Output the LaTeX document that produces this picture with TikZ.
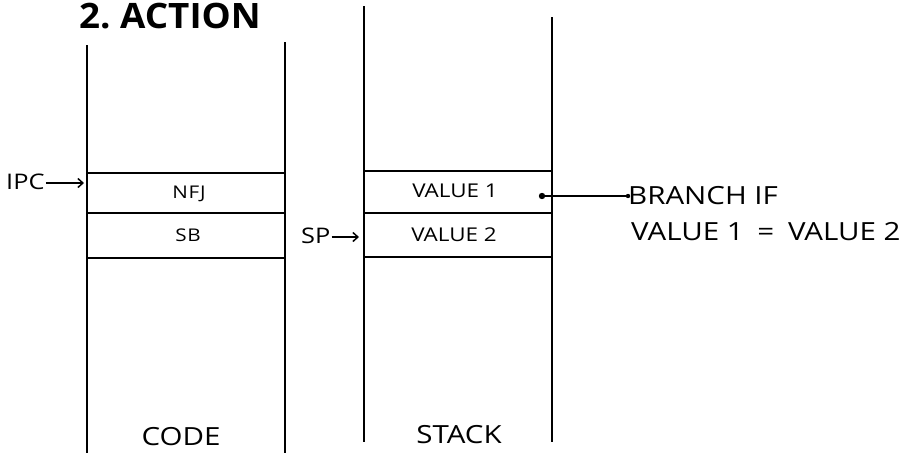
\documentclass[tikz,border=0pt]{standalone}
\usepackage{fontspec}
\setmainfont{Open Sans}[FakeStretch=1.18]
\newfontfamily\titlefont{Open Sans}[FakeStretch=1.05]
\usetikzlibrary{arrows.meta}
\begin{document}
\begin{tikzpicture}[x=1pt,y=-1pt,
  col/.style={line width=2.2pt},
  row/.style={line width=2.6pt},
  lbl/.style={inner sep=0pt,font=\fontsize{25}{28}\selectfont},
  cell/.style={inner sep=0pt,font=\fontsize{19}{22}\selectfont},
  small/.style={inner sep=0pt,font=\fontsize{17.5}{18}\selectfont\addfontfeature{LetterSpace=4}},
  ptr/.style={line width=1.5pt,-{Straight Barb[length=5pt,width=9pt]}}]
\useasboundingbox (0,0) rectangle (908,453);
% columns
\draw[col] (87,45) -- (87,453);
\draw[col] (285,42) -- (285,453);
\draw[col] (364,6) -- (364,442);
\draw[col] (552,17) -- (552,442);
% rows
\foreach \y in {173,213,258} \draw[row] (87,\y) -- (285,\y);
\foreach \y in {171,213,257} \draw[row] (364,\y) -- (552,\y);
% title
\node[inner sep=0pt,anchor=west,font=\titlefont\fontsize{35}{38}\selectfont\bfseries] (title) at (79,16) {2.\ ACTION};
% cells
\node[small] (nfj) at (189,194) {NFJ};
\node[small] (sb) at (188,235) {SB};
\node[cell] (v1) at (455,191) {VALUE 1};
\node[cell] (v2) at (454,235) {VALUE 2};
% pointers
\node[cell,anchor=west,font=\fontsize{21.5}{22}\selectfont] (ipc) at (6,182) {IPC};
\coordinate (ipct) at (84,183);
\draw[ptr] (ipc.east) ++(1,1) -- (ipct);
\node[cell,anchor=west,font=\fontsize{21.5}{22}\selectfont] (sp) at (301,236) {SP};
\coordinate (spt) at (359,237);
\draw[ptr] (sp.east) ++(1,1) -- (spt);
% branch note
\node[lbl,anchor=west] (br) at (628,196) {BRANCH IF};
\node[lbl,anchor=west] (eq) at (631,232) {VALUE 1\hspace{0.55em}=\hspace{0.55em}VALUE 2};
\coordinate (dot) at (542,0 |- br.west);
\fill (dot) circle (3.2pt);
\draw[line width=2pt] (dot) -- (br.west);
\fill (br.west) circle (2.2pt);
% bottom labels
\node[lbl] (code) at (181,437) {CODE};
\node[lbl] (stack) at (459,435) {STACK};
\end{tikzpicture}
\end{document}
